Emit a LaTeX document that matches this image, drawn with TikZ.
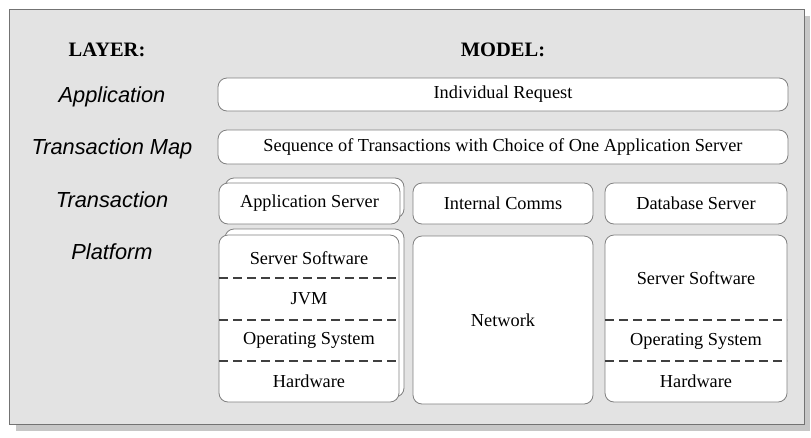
\documentclass[tikz,border=0pt]{standalone}
\usepackage{fontspec}
\setmainfont{Liberation Serif}
\newfontfamily\labfont{Liberation Sans}
\begin{document}
\begin{tikzpicture}[x=1pt,y=-1pt,
  box/.style={draw=black!50, fill=white, rounded corners=9pt, line width=0.8pt,
    inner sep=0pt, outer sep=0pt, font=\fontsize{18.3}{20}\selectfont},
  sep/.style={draw=black!75, dash pattern=on 9pt off 5pt, line width=1.3pt},
  txt/.style={inner sep=0pt, font=\fontsize{18.3}{20}\selectfont},
  layer/.style={inner sep=0pt, font=\labfont\itshape\fontsize{21.8}{24}\selectfont},
  head/.style={inner sep=0pt, font=\bfseries\fontsize{20.5}{24}\selectfont}]
\useasboundingbox (0,0) rectangle (811,437);
% panel with shadow
\fill[black!22] (16,16) rectangle (810,431);
\draw[draw=black!55, fill=black!11, line width=0.8pt] (9,9) rectangle (804,424);
% headers
\node[head] (hl) at (107,50) {LAYER:};
\node[head] (hm) at (503,50) {MODEL:};
% layer labels
\node[layer] (la) at (112,97) {Application};
\node[layer] (lt) at (112,149) {Transaction Map};
\node[layer] (ltr) at (112,200) {Transaction};
\node[layer] (lp) at (112,252) {Platform};
% rows
\node[box, minimum width=570pt, minimum height=33pt] (ir) at (503,94.5) {Individual Request};
\node[box, minimum width=570pt, minimum height=34pt] (seq) at (503,147) {Sequence of Transactions with Choice of One Application Server};
% transaction row
\node[box, minimum width=179pt, minimum height=40pt] (asb) at (314.5,198) {};
\node[box, minimum width=181pt, minimum height=41pt] (as) at (309.5,203.5) {Application Server};
\node[box, minimum width=180pt, minimum height=41pt] (ic) at (503,203.5) {Internal Comms};
\node[box, minimum width=182pt, minimum height=41pt] (db) at (696,203.5) {Database Server};
% platform row
\node[box, minimum width=179pt, minimum height=168pt] (lsb) at (314.5,313) {};
\node[box, minimum width=180pt, minimum height=167pt] (ls) at (309,318.5) {};
\node[box, minimum width=180pt, minimum height=168pt] (net) at (503,320) {Network};
\node[box, minimum width=182pt, minimum height=167pt] (rs) at (696,318.5) {};
% left stack
\node[txt] (l1) at (309,258) {Server Software};
\node[txt] (l2) at (309,299) {JVM};
\node[txt] (l3) at (309,340) {Operating System};
\node[txt] (l4) at (309,381) {Hardware};
\draw[sep] (ls.west |- 0,278) -- (ls.east |- 0,278);
\draw[sep] (ls.west |- 0,320) -- (ls.east |- 0,320);
\draw[sep] (ls.west |- 0,361) -- (ls.east |- 0,361);
% right stack
\node[txt] (r1) at (696,278) {Server Software};
\node[txt] (r3) at (696,341) {Operating System};
\node[txt] (r4) at (696,381) {Hardware};
\draw[sep] (rs.west |- 0,320) -- (rs.east |- 0,320);
\draw[sep] (rs.west |- 0,361) -- (rs.east |- 0,361);
\end{tikzpicture}
\end{document}
